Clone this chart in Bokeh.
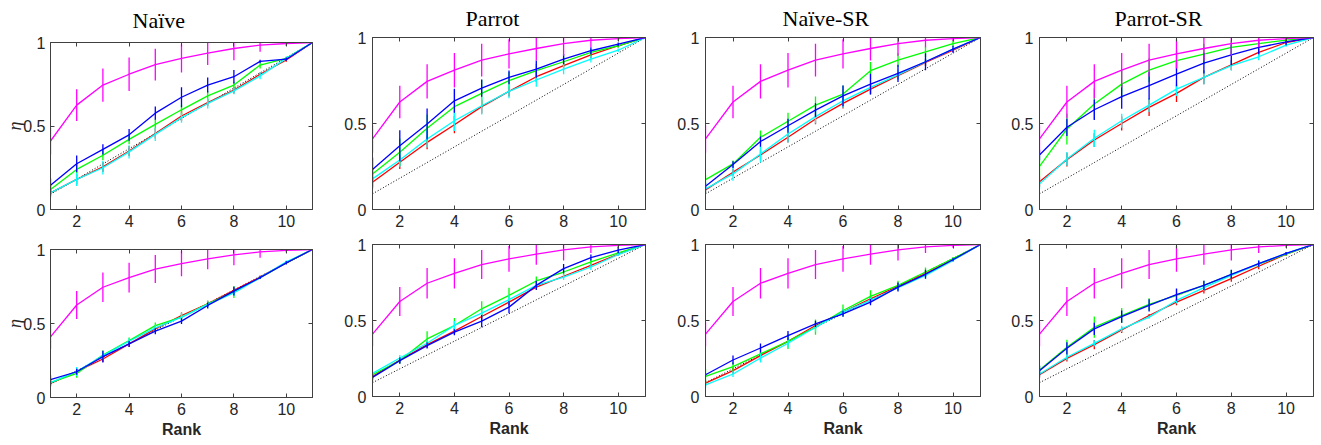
import math
from bokeh.plotting import figure
from bokeh.models import Range1d, FixedTicker, CustomJSTickFormatter, LinearAxis
from bokeh.layouts import column, row
from bokeh.embed import file_html
from bokeh.resources import INLINE

rank = [1, 2, 3, 4, 5, 6, 7, 8, 9, 10, 11]
chance = [0.091, 0.182, 0.273, 0.364, 0.455, 0.545, 0.636, 0.727, 0.818, 0.909, 1.0]

titles = ["Naïve", "Parrot", "Naïve-SR", "Parrot-SR"]
x_ticks = [2, 4, 6, 8, 10]
y_ticks = [0, 0.5, 1]

# magenta (same in every panel)
magenta = [0.41, 0.625, 0.745, 0.81, 0.868, 0.905, 0.936, 0.964, 0.984, 0.994, 1.0]
magenta_err = [0.08, 0.095, 0.10, 0.10, 0.095, 0.085, 0.07, 0.07, 0.04, 0.015, 0.0]

# ---- top row ----
p1_blue = [0.145, 0.274, 0.36, 0.447, 0.577, 0.672, 0.745, 0.795, 0.887, 0.90, 1.0]
p1_blue_err = [0.04, 0.05, 0.03, 0.035, 0.04, 0.06, 0.045, 0.04, 0.01, 0.01, 0.0]
p1_green = [0.12, 0.24, 0.325, 0.42, 0.51, 0.597, 0.68, 0.745, 0.865, 0.905, 1.0]
p1_green_err = [0.03, 0.04, 0.03, 0.03, 0.03, 0.03, 0.03, 0.02, 0.02, 0.01, 0.0]
p1_red = [0.10, 0.18, 0.255, 0.35, 0.455, 0.56, 0.64, 0.715, 0.81, 0.895, 1.0]
p1_red_err = [0.02, 0.03, 0.03, 0.03, 0.03, 0.03, 0.02, 0.02, 0.01, 0.01, 0.0]
p1_cyan = [0.10, 0.18, 0.25, 0.345, 0.45, 0.55, 0.635, 0.71, 0.80, 0.905, 1.0]
p1_cyan_err = [0.03, 0.04, 0.04, 0.04, 0.04, 0.03, 0.03, 0.02, 0.02, 0.01, 0.0]

p2_blue = [0.232, 0.371, 0.497, 0.632, 0.706, 0.768, 0.816, 0.874, 0.923, 0.961, 1.0]
p2_blue_err = [0.07, 0.09, 0.09, 0.07, 0.05, 0.04, 0.05, 0.03, 0.02, 0.01, 0.0]
p2_green = [0.207, 0.333, 0.472, 0.598, 0.675, 0.749, 0.807, 0.859, 0.913, 0.952, 1.0]
p2_green_err = [0.09, 0.08, 0.08, 0.10, 0.08, 0.05, 0.04, 0.03, 0.02, 0.01, 0.0]
p2_red = [0.159, 0.275, 0.39, 0.493, 0.598, 0.687, 0.772, 0.836, 0.899, 0.952, 1.0]
p2_red_err = [0.03, 0.04, 0.04, 0.05, 0.04, 0.03, 0.03, 0.02, 0.02, 0.01, 0.0]
p2_cyan = [0.178, 0.288, 0.41, 0.516, 0.603, 0.687, 0.753, 0.816, 0.874, 0.926, 1.0]
p2_cyan_err = [0.05, 0.04, 0.05, 0.06, 0.05, 0.04, 0.04, 0.03, 0.02, 0.01, 0.0]

p3_blue = [0.135, 0.261, 0.395, 0.487, 0.578, 0.661, 0.729, 0.791, 0.859, 0.932, 1.0]
p3_blue_err = [0.02, 0.02, 0.03, 0.04, 0.04, 0.06, 0.06, 0.05, 0.05, 0.02, 0.0]
p3_green = [0.174, 0.265, 0.42, 0.513, 0.607, 0.671, 0.807, 0.868, 0.917, 0.965, 1.0]
p3_green_err = [0.03, 0.02, 0.04, 0.05, 0.05, 0.05, 0.05, 0.04, 0.03, 0.02, 0.0]
p3_red = [0.114, 0.217, 0.317, 0.42, 0.526, 0.617, 0.70, 0.778, 0.855, 0.926, 1.0]
p3_red_err = [0.02, 0.02, 0.03, 0.03, 0.03, 0.03, 0.03, 0.02, 0.02, 0.01, 0.0]
p3_cyan = [0.12, 0.207, 0.323, 0.439, 0.54, 0.632, 0.71, 0.783, 0.859, 0.932, 1.0]
p3_cyan_err = [0.03, 0.04, 0.05, 0.05, 0.04, 0.04, 0.04, 0.03, 0.02, 0.01, 0.0]

p4_blue = [0.317, 0.478, 0.58, 0.656, 0.72, 0.787, 0.851, 0.899, 0.942, 0.975, 1.0]
p4_blue_err = [0.03, 0.05, 0.06, 0.07, 0.08, 0.07, 0.06, 0.06, 0.04, 0.02, 0.0]
p4_green = [0.251, 0.468, 0.613, 0.729, 0.81, 0.865, 0.903, 0.942, 0.965, 0.985, 1.0]
p4_green_err = [0.06, 0.09, 0.09, 0.08, 0.07, 0.06, 0.06, 0.04, 0.03, 0.01, 0.0]
p4_red = [0.162, 0.29, 0.404, 0.50, 0.594, 0.675, 0.768, 0.841, 0.913, 0.971, 1.0]
p4_red_err = [0.03, 0.04, 0.04, 0.04, 0.05, 0.05, 0.04, 0.03, 0.02, 0.01, 0.0]
p4_cyan = [0.149, 0.294, 0.414, 0.516, 0.607, 0.70, 0.768, 0.836, 0.888, 0.956, 1.0]
p4_cyan_err = [0.03, 0.04, 0.05, 0.04, 0.04, 0.04, 0.04, 0.03, 0.02, 0.01, 0.0]

# ---- bottom row ----
p5_blue = [0.12, 0.174, 0.276, 0.362, 0.448, 0.516, 0.622, 0.719, 0.81, 0.91, 1.0]
p5_blue_err = [0.03, 0.02, 0.04, 0.02, 0.02, 0.02, 0.02, 0.03, 0.01, 0.01, 0.0]
p5_green = [0.10, 0.163, 0.287, 0.385, 0.486, 0.543, 0.633, 0.713, 0.81, 0.91, 1.0]
p5_green_err = [0.02, 0.03, 0.03, 0.02, 0.02, 0.02, 0.02, 0.04, 0.01, 0.01, 0.0]
p5_red = [0.095, 0.176, 0.26, 0.362, 0.464, 0.554, 0.633, 0.724, 0.814, 0.91, 1.0]
p5_red_err = [0.02, 0.02, 0.02, 0.02, 0.02, 0.02, 0.02, 0.02, 0.01, 0.01, 0.0]
p5_cyan = [0.10, 0.176, 0.283, 0.38, 0.47, 0.543, 0.629, 0.706, 0.81, 0.916, 1.0]
p5_cyan_err = [0.02, 0.03, 0.02, 0.02, 0.02, 0.03, 0.02, 0.02, 0.01, 0.01, 0.0]

p6_blue = [0.126, 0.236, 0.335, 0.423, 0.496, 0.588, 0.731, 0.841, 0.914, 0.963, 1.0]
p6_blue_err = [0.02, 0.02, 0.02, 0.02, 0.04, 0.04, 0.03, 0.03, 0.02, 0.02, 0.0]
p6_green = [0.143, 0.236, 0.379, 0.467, 0.577, 0.665, 0.76, 0.819, 0.885, 0.945, 1.0]
p6_green_err = [0.02, 0.02, 0.05, 0.05, 0.05, 0.05, 0.03, 0.02, 0.02, 0.01, 0.0]
p6_red = [0.132, 0.24, 0.341, 0.43, 0.526, 0.621, 0.72, 0.791, 0.863, 0.936, 1.0]
p6_red_err = [0.02, 0.02, 0.02, 0.02, 0.02, 0.02, 0.01, 0.01, 0.01, 0.01, 0.0]
p6_cyan = [0.152, 0.253, 0.35, 0.467, 0.548, 0.637, 0.731, 0.786, 0.852, 0.934, 1.0]
p6_cyan_err = [0.02, 0.02, 0.02, 0.03, 0.03, 0.03, 0.02, 0.02, 0.02, 0.01, 0.0]

p7_blue = [0.143, 0.24, 0.319, 0.401, 0.478, 0.544, 0.621, 0.72, 0.804, 0.90, 1.0]
p7_blue_err = [0.01, 0.03, 0.03, 0.03, 0.02, 0.02, 0.02, 0.03, 0.03, 0.01, 0.0]
p7_green = [0.132, 0.196, 0.28, 0.363, 0.456, 0.566, 0.659, 0.731, 0.819, 0.907, 1.0]
p7_green_err = [0.05, 0.03, 0.05, 0.05, 0.05, 0.04, 0.04, 0.03, 0.03, 0.01, 0.0]
p7_red = [0.088, 0.17, 0.269, 0.363, 0.467, 0.555, 0.643, 0.725, 0.808, 0.90, 1.0]
p7_red_err = [0.02, 0.02, 0.02, 0.02, 0.02, 0.02, 0.02, 0.02, 0.02, 0.01, 0.0]
p7_cyan = [0.077, 0.148, 0.253, 0.35, 0.456, 0.555, 0.632, 0.716, 0.797, 0.896, 1.0]
p7_cyan_err = [0.02, 0.02, 0.03, 0.03, 0.03, 0.02, 0.02, 0.02, 0.02, 0.01, 0.0]

p8_blue = [0.17, 0.317, 0.445, 0.526, 0.599, 0.67, 0.731, 0.804, 0.874, 0.941, 1.0]
p8_blue_err = [0.03, 0.04, 0.04, 0.04, 0.04, 0.04, 0.03, 0.03, 0.02, 0.01, 0.0]
p8_green = [0.174, 0.324, 0.456, 0.533, 0.606, 0.665, 0.731, 0.802, 0.87, 0.936, 1.0]
p8_green_err = [0.03, 0.05, 0.07, 0.05, 0.04, 0.04, 0.03, 0.03, 0.02, 0.01, 0.0]
p8_red = [0.143, 0.251, 0.341, 0.438, 0.533, 0.621, 0.698, 0.775, 0.857, 0.936, 1.0]
p8_red_err = [0.02, 0.02, 0.03, 0.02, 0.01, 0.02, 0.02, 0.02, 0.02, 0.01, 0.0]
p8_cyan = [0.148, 0.258, 0.35, 0.445, 0.522, 0.632, 0.716, 0.797, 0.874, 0.941, 1.0]
p8_cyan_err = [0.02, 0.02, 0.02, 0.02, 0.01, 0.02, 0.02, 0.02, 0.02, 0.01, 0.0]

panels = [
    [(p1_red, p1_red_err), (p1_green, p1_green_err), (p1_cyan, p1_cyan_err), (p1_blue, p1_blue_err)],
    [(p2_red, p2_red_err), (p2_green, p2_green_err), (p2_cyan, p2_cyan_err), (p2_blue, p2_blue_err)],
    [(p3_red, p3_red_err), (p3_green, p3_green_err), (p3_cyan, p3_cyan_err), (p3_blue, p3_blue_err)],
    [(p4_red, p4_red_err), (p4_green, p4_green_err), (p4_cyan, p4_cyan_err), (p4_blue, p4_blue_err)],
    [(p5_red, p5_red_err), (p5_green, p5_green_err), (p5_cyan, p5_cyan_err), (p5_blue, p5_blue_err)],
    [(p6_red, p6_red_err), (p6_green, p6_green_err), (p6_cyan, p6_cyan_err), (p6_blue, p6_blue_err)],
    [(p7_red, p7_red_err), (p7_green, p7_green_err), (p7_cyan, p7_cyan_err), (p7_blue, p7_blue_err)],
    [(p8_red, p8_red_err), (p8_green, p8_green_err), (p8_cyan, p8_cyan_err), (p8_blue, p8_blue_err)],
]
series_colors = ["#ff0000", "#00ff00", "#00ffff", "#0000ff"]

AX = "#404040"
TXT = "#262626"
col_w = [330, 333, 334, 322]
col_l = [50, 42, 42, 42]
col_r = [18, 18, 17, 6]
title_off = [82, 93, 77, 75]


def style_axis(ax, labels=True):
    ax.axis_line_color = AX
    ax.major_tick_line_color = AX
    ax.major_tick_in = 4
    ax.major_tick_out = 0
    ax.minor_tick_line_color = None
    ax.major_label_text_font = "Liberation Sans"
    ax.major_label_text_color = TXT
    ax.major_label_text_font_size = "16px"
    if not labels:
        ax.formatter = CustomJSTickFormatter(code="return '';")
        ax.major_label_text_font_size = "1px"
        ax.major_label_standoff = 0


def make_fig(r, c):
    idx = r * 4 + c
    if r == 0:
        h = 236
        top = 42 if c == 0 else 37
        bot = 27
    else:
        h = 208
        top = 13 if c == 0 else 8
        bot = 47 if c == 0 else 48
    p = figure(width=col_w[c], height=h, output_backend="svg", toolbar_location=None,
               x_range=Range1d(1, 11), y_range=Range1d(0, 1),
               min_border_left=col_l[c], min_border_right=col_r[c],
               min_border_top=top, min_border_bottom=bot)
    p.xgrid.visible = False
    p.ygrid.visible = False
    p.outline_line_color = AX
    p.outline_line_alpha = 1
    p.background_fill_color = "white"
    p.border_fill_color = "white"

    xb = p.below[0]
    yl = p.left[0]
    xb.ticker = FixedTicker(ticks=x_ticks)
    yl.ticker = FixedTicker(ticks=y_ticks)
    yl.formatter = CustomJSTickFormatter(code="return tick.toString();")
    style_axis(xb)
    style_axis(yl)
    xb.major_label_standoff = 5
    yl.major_label_standoff = 6

    ax_top = LinearAxis(ticker=FixedTicker(ticks=x_ticks))
    style_axis(ax_top, labels=False)
    p.add_layout(ax_top, "above")
    ax_right = LinearAxis(ticker=FixedTicker(ticks=y_ticks))
    style_axis(ax_right, labels=False)
    p.add_layout(ax_right, "right")

    if r == 1:
        xb.axis_label = "Rank"
        xb.axis_label_text_font = "Liberation Sans"
        xb.axis_label_text_font_style = "bold"
        xb.axis_label_text_font_size = "16px"
        xb.axis_label_text_color = TXT
        xb.axis_label_standoff = 3
    if r == 0:
        p.title.text = titles[c]
        p.title.text_font = "Liberation Serif"
        p.title.text_font_size = "22px"
        p.title.text_font_style = "normal"
        p.title.text_color = "black"
        p.title.align = "left"
        p.title.vertical_align = "top"
        p.title.offset = title_off[c]
        p.title.standoff = 15 if c == 0 else 10

    if c == 0:
        yl.axis_label = "η"
        yl.axis_label_text_font = "Liberation Serif"
        yl.axis_label_text_font_style = "italic"
        yl.axis_label_text_font_size = "18px"
        yl.axis_label_text_color = TXT
        yl.axis_label_standoff = -5
        yl.major_label_standoff = 5

    p.line(rank, chance, line_color="black", line_dash="1 2", line_width=1)
    for (vals, errs), color in zip(panels[idx], series_colors):
        lo = [v - e for v, e in zip(vals, errs)]
        hi = [v + e for v, e in zip(vals, errs)]
        p.segment(x0=rank, y0=lo, x1=rank, y1=hi, line_color=color, line_width=1.3)
        p.line(rank, vals, line_color=color, line_width=1.3)
    lo = [v - e for v, e in zip(magenta, magenta_err)]
    hi = [v + e for v, e in zip(magenta, magenta_err)]
    p.segment(x0=rank, y0=lo, x1=rank, y1=hi, line_color="#ff00ff", line_width=1.3)
    p.line(rank, magenta, line_color="#ff00ff", line_width=1.3)
    return p


figs_top = [column(make_fig(0, c)) for c in range(4)]
figs_bot = [column(make_fig(1, c)) for c in range(4)]
layout = column(row(*figs_top), row(*figs_bot))

open("out.html", "w").write(file_html(layout, INLINE))
